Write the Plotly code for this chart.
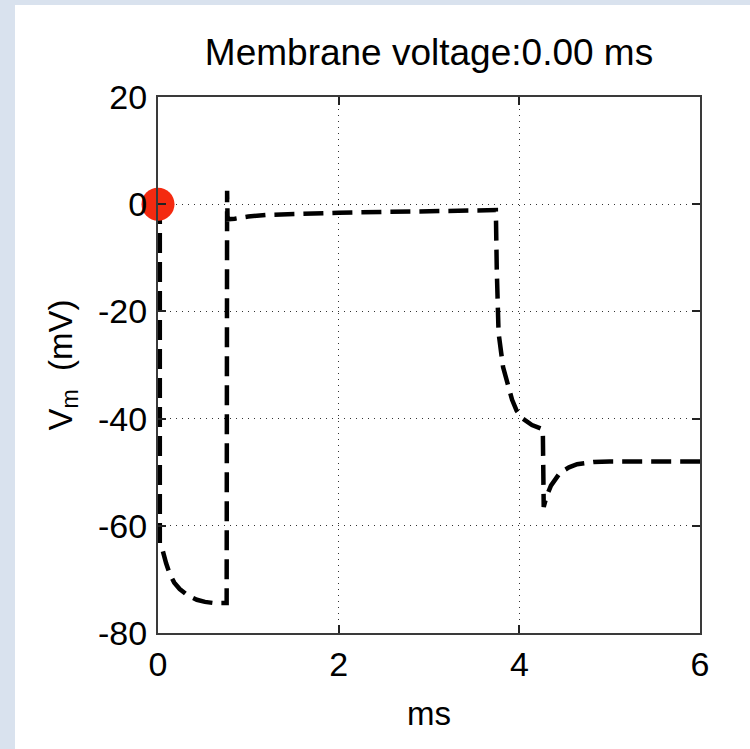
import plotly.graph_objects as go

# Membrane voltage trace (time in ms, voltage in mV)
t_ms = [0.0, 0.02, 0.02, 0.05, 0.09, 0.13, 0.18, 0.24, 0.33, 0.43, 0.52, 0.61, 0.76, 0.765, 0.77,
        0.85, 1.0, 1.2, 1.5, 2.0, 2.5, 3.0, 3.5, 3.74, 3.75, 3.77, 3.82, 3.87, 3.92, 3.97, 4.03,
        4.14, 4.25, 4.26, 4.27, 4.30, 4.35, 4.45, 4.55, 4.64, 4.82, 5.0, 6.0]
v_mV = [0.0, -2.0, -63.4, -64.5, -67.0, -69.0, -70.6, -71.8, -73.0, -73.8, -74.2, -74.4, -74.4, 2.5, -2.8,
        -2.7, -2.3, -2.0, -1.8, -1.6, -1.45, -1.3, -1.2, -1.1, -12.0, -24.0, -30.4, -33.8, -36.5, -38.5, -39.9,
        -41.2, -41.8, -42.0, -56.5, -54.6, -52.5, -50.1, -49.1, -48.5, -48.1, -48.0, -48.0]

# Current-time marker
marker_t = [0.0]
marker_v = [0.0]

x_ticks = [0, 2, 4, 6]
y_ticks = [-80, -60, -40, -20, 0, 20]

title_text = "Membrane voltage:0.00 ms"
x_title = "ms"
y_title = "V<sub>m</sub>  (mV)"

FONT = "Liberation Sans, Arial, Helvetica, sans-serif"

fig = go.Figure()
fig.add_trace(go.Scatter(
    x=t_ms, y=v_mV, mode="lines",
    line=dict(color="black", width=4.5, dash="20px,9px"),
    hoverinfo="skip", showlegend=False,
))
fig.add_trace(go.Scatter(
    x=marker_t, y=marker_v, mode="markers",
    marker=dict(color="#f42a10", size=33, line=dict(width=0)),
    showlegend=False, cliponaxis=False,
))

L, R, T, B = 158, 50, 97, 116
W, H = 750, 749
pw, ph = W - L - R, H - T - B
x0 = (15 - L) / pw
x1 = (750 - L) / pw
y1 = (H - B - 5) / ph
y0 = (H - B - 749) / ph

fig.add_shape(type="rect", xref="paper", yref="paper", x0=x0, x1=x1, y0=y0, y1=y1,
              fillcolor="white", line=dict(width=0), layer="below")

axis_common = dict(
    showline=True, linecolor="#3a3a3a", linewidth=2, mirror="ticks",
    ticks="inside", ticklen=8, tickwidth=1.5, tickcolor="#222",
    showgrid=True, gridcolor="#333", gridwidth=1, griddash="1px,5px",
    zeroline=False, tickfont=dict(family=FONT, size=34, color="black"),
)

fig.update_xaxes(range=[0, 6], tickvals=x_ticks, ticktext=[str(v) for v in x_ticks],
                 title=dict(text=x_title, font=dict(family=FONT, size=33, color="black"), standoff=20),
                 **axis_common)
fig.update_yaxes(range=[-80, 20], tickvals=y_ticks, ticktext=[str(v) for v in y_ticks],
                 title=dict(text=y_title, font=dict(family=FONT, size=33, color="black"), standoff=16),
                 ticklabelstandoff=2,
                 **axis_common)

fig.update_layout(
    width=W, height=H,
    margin=dict(l=L, r=R, t=T, b=B, autoexpand=False),
    paper_bgcolor="#d9e2ee", plot_bgcolor="white",
    title=dict(text=title_text, x=(L + pw / 2) / W, xanchor="center", y=1 - 52 / H, yanchor="middle",
               font=dict(family=FONT, size=37, color="black")),
    font=dict(family=FONT, color="black"),
)

fig.write_html("out.html")
